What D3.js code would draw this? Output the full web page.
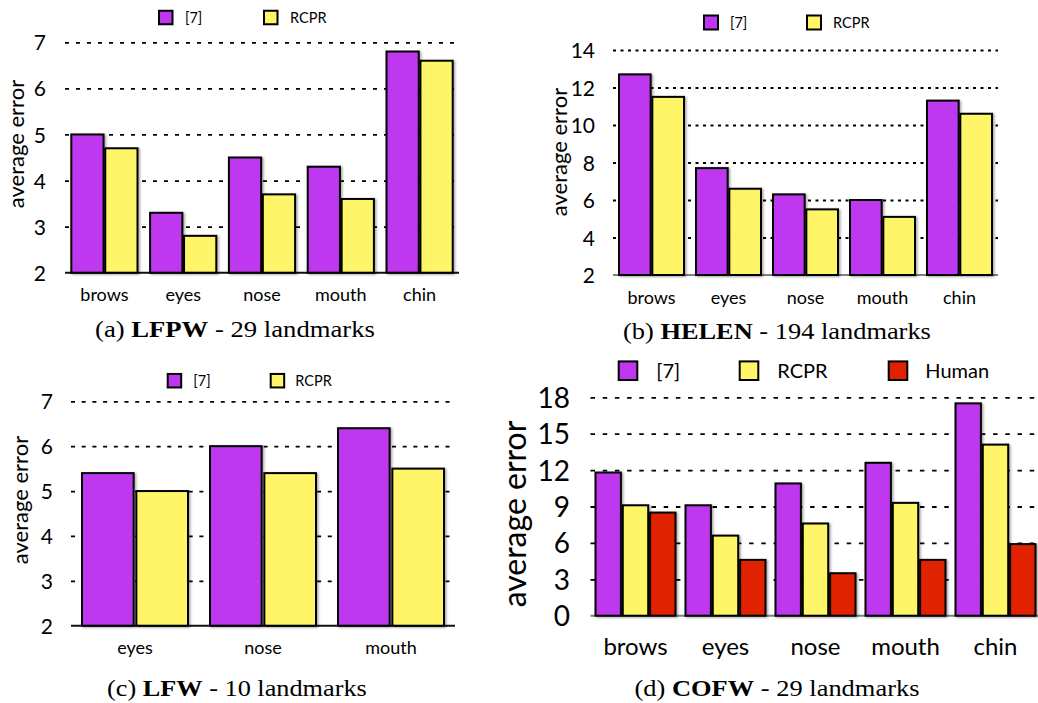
<!DOCTYPE html>
<html>
<head>
<meta charset="utf-8">
<script src="https://cdn.jsdelivr.net/npm/d3@7"></script>
<style>
  html, body { margin: 0; padding: 0; background: #fff; }
  svg { display: block; }
</style>
</head>
<body>
<script>
// ---------------- DATA ----------------
const seriesNames2 = ["[7]", "RCPR"];
const seriesNames3 = ["[7]", "RCPR", "Human"];

const lfpwCats = ["brows", "eyes", "nose", "mouth", "chin"];
const lfpwRef7 = [5.0, 3.3, 4.5, 4.3, 6.8];
const lfpwRCPR = [4.7, 2.8, 3.7, 3.6, 6.6];
const lfpwTicks = [2, 3, 4, 5, 6, 7];

const helenCats = ["brows", "eyes", "nose", "mouth", "chin"];
const helenRef7 = [12.7, 7.7, 6.3, 6.0, 11.3];
const helenRCPR = [11.5, 6.6, 5.5, 5.1, 10.6];
const helenTicks = [2, 4, 6, 8, 10, 12, 14];

const lfwCats = ["eyes", "nose", "mouth"];
const lfwRef7 = [5.4, 6.0, 6.4];
const lfwRCPR = [5.0, 5.4, 5.5];
const lfwTicks = [2, 3, 4, 5, 6, 7];

const cofwCats = ["brows", "eyes", "nose", "mouth", "chin"];
const cofwRef7 = [11.8, 9.1, 10.9, 12.6, 17.5];
const cofwRCPR = [9.1, 6.6, 7.6, 9.3, 14.1];
const cofwHuman = [8.5, 4.6, 3.5, 4.6, 5.9];
const cofwTicks = [0, 3, 6, 9, 12, 15, 18];

const yTitle = "average error";
const captions = [
  ["(a) ", "LFPW", " - 29 landmarks"],
  ["(b) ", "HELEN", " - 194 landmarks"],
  ["(c) ", "LFW", " - 10 landmarks"],
  ["(d) ", "COFW", " - 29 landmarks"]
];

// ---------------- STYLE ----------------
const COLORS = ["#BE37F0", "#FFF568", "#E02200"];
const SANS = "Lato, 'Open Sans', sans-serif";
const SERIF = "'Liberation Serif', serif";

const svg = d3.select("body").append("svg").attr("width", 1038).attr("height", 703);
const defs = svg.append("defs");
const f = defs.append("filter").attr("id", "shadow").attr("x", "-20%").attr("y", "-10%").attr("width", "150%").attr("height", "130%");
f.append("feDropShadow").attr("dx", 1.5).attr("dy", 1).attr("stdDeviation", 1).attr("flood-color", "#000").attr("flood-opacity", 0.35);

function drawPanel(p) {
  const g = svg.append("g");
  const x = d3.scaleBand().domain(p.cats).range(p.xRange)
    .paddingInner(p.pad).paddingOuter(p.pad / 2);
  const xs = d3.scaleBand().domain(p.names).range([0, x.bandwidth()]).paddingInner(p.subPad);
  const y = d3.scaleLinear().domain(p.yDomain).range(p.yRange);

  // dotted gridlines
  const grid = g.append("g").attr("transform", `translate(${p.xRange[0]},0)`)
    .call(d3.axisLeft(y).tickValues(p.ticks.slice(1)).tickSize(-(p.gridEnd - p.xRange[0])).tickFormat(""));
  grid.select(".domain").remove();
  grid.selectAll("line").attr("stroke", "#000").attr("stroke-width", 1.8).attr("stroke-dasharray", p.dash);

  // baseline
  g.append("line")
    .attr("x1", p.xRange[0]).attr("x2", p.gridEnd)
    .attr("y1", y(p.yDomain[0])).attr("y2", y(p.yDomain[0]))
    .attr("stroke", p.baseColor).attr("stroke-width", 2);

  // bars
  const rows = p.cats.map((c, i) => ({
    cat: c,
    vals: p.series.map((s, j) => ({ name: p.names[j], v: s[i], color: COLORS[j] }))
  }));
  g.selectAll("g.grp").data(rows).join("g").attr("class", "grp")
    .attr("transform", d => `translate(${x(d.cat)},0)`)
    .selectAll("rect").data(d => d.vals).join("rect")
    .attr("x", d => xs(d.name)).attr("width", xs.bandwidth())
    .attr("y", d => y(d.v)).attr("height", d => y(p.yDomain[0]) - y(d.v))
    .attr("fill", d => d.color).attr("stroke", "#000").attr("stroke-width", 2)
    .attr("filter", "url(#shadow)");

  // tick labels
  const ax = g.append("g").attr("transform", `translate(${p.tickX},0)`)
    .call(d3.axisLeft(y).tickValues(p.ticks).tickSize(0).tickPadding(0).tickFormat(d3.format("d")));
  ax.select(".domain").remove();
  ax.selectAll("text").attr("font-family", SANS).attr("font-size", p.tickFs)
    .attr("fill", "#000").attr("dy", "0.36em");

  // category labels
  const bx = g.append("g").attr("transform", `translate(0,${p.catY})`)
    .call(d3.axisBottom(x).tickSize(0).tickPadding(0));
  bx.select(".domain").remove();
  bx.selectAll("text").attr("font-family", SANS).attr("font-size", p.catFs)
    .attr("fill", "#000").attr("dy", "0.35em");

  // y title
  g.append("text").attr("transform", `translate(${p.titleX},${p.titleY}) rotate(-90)`)
    .attr("text-anchor", "middle").attr("font-family", SANS).attr("font-size", p.titleFs)
    .attr("fill", "#000").text(yTitle);

  // legend
  const lg = g.selectAll("g.leg").data(p.names).join("g").attr("class", "leg");
  lg.append("rect")
    .attr("x", (d, i) => p.legSq[i]).attr("y", p.legY - p.legSize / 2)
    .attr("width", p.legSize).attr("height", p.legSize)
    .attr("fill", (d, i) => COLORS[i]).attr("stroke", "#000").attr("stroke-width", 2);
  lg.append("text")
    .attr("x", (d, i) => p.legTx[i]).attr("y", p.legY).attr("dy", "0.35em")
    .attr("font-family", SANS).attr("font-size", p.legFs).attr("fill", "#000")
    .text(d => d);

  // caption (fitted to measured width)
  const cg = g.append("g");
  const ct = cg.append("text").attr("x", 0).attr("y", 0)
    .attr("font-family", SERIF).attr("font-size", 24).attr("fill", "#000");
  ct.append("tspan").text(p.caption[0]);
  ct.append("tspan").attr("font-weight", "bold").text(p.caption[1]);
  ct.append("tspan").text(p.caption[2]);
  const w = ct.node().getComputedTextLength();
  const k = p.capW / w;
  cg.attr("transform", `translate(${p.capX - p.capW / 2},${p.capY}) scale(${k},1)`);
}

drawPanel({
  cats: lfpwCats, names: seriesNames2, series: [lfpwRef7, lfpwRCPR],
  xRange: [65, 459], gridEnd: 459, pad: 0.16, subPad: 0.05,
  yDomain: [2, 7], yRange: [272.7, 42.3], ticks: lfpwTicks, dash: "4,7", baseColor: "#111",
  tickX: 46, tickFs: 21, catY: 295, catFs: 18,
  titleX: 24, titleY: 144, titleFs: 22,
  legSq: [159, 264], legTx: [185, 290], legY: 17.5, legSize: 13.5, legFs: 14.5,
  caption: captions[0], capX: 235, capY: 337, capW: 280
});

drawPanel({
  cats: helenCats, names: seriesNames2, series: [helenRef7, helenRCPR],
  xRange: [613, 998], gridEnd: 998, pad: 0.156, subPad: 0.05,
  yDomain: [2, 14], yRange: [275, 50], ticks: helenTicks, dash: "3,4.5", baseColor: "#808080",
  tickX: 595, tickFs: 21, catY: 297.7, catFs: 18,
  titleX: 567, titleY: 152, titleFs: 22,
  legSq: [704, 807], legTx: [730, 833], legY: 22.5, legSize: 14, legFs: 14.5,
  caption: captions[1], capX: 777, capY: 339, capW: 308
});

drawPanel({
  cats: lfwCats, names: seriesNames2, series: [lfwRef7, lfwRCPR],
  xRange: [71, 455], gridEnd: 455, pad: 0.172, subPad: 0.05,
  yDomain: [2, 7], yRange: [625.7, 401.3], ticks: lfwTicks, dash: "4,6.7", baseColor: "#111",
  tickX: 53, tickFs: 21, catY: 648, catFs: 18,
  titleX: 28, titleY: 500, titleFs: 22,
  legSq: [167.7, 270.7], legTx: [193.3, 295.3], legY: 380.7, legSize: 13.5, legFs: 14.5,
  caption: captions[2], capX: 237, capY: 696, capW: 260
});

drawPanel({
  cats: cofwCats, names: seriesNames3, series: [cofwRef7, cofwRCPR, cofwHuman],
  xRange: [590.5, 1040.5], gridEnd: 1038, pad: 0.111, subPad: 0.07,
  yDomain: [0, 18], yRange: [615.7, 397.3], ticks: cofwTicks, dash: "4.5,7.7", baseColor: "#808080",
  tickX: 570, tickFs: 28, catY: 646.7, catFs: 24,
  titleX: 526, titleY: 514, titleFs: 32,
  legSq: [618.7, 739.7, 888.7], legTx: [656.3, 777.3, 925.3], legY: 370.7, legSize: 18.6, legFs: 20,
  caption: captions[3], capX: 777, capY: 696, capW: 285
});
</script>
</body>
</html>
